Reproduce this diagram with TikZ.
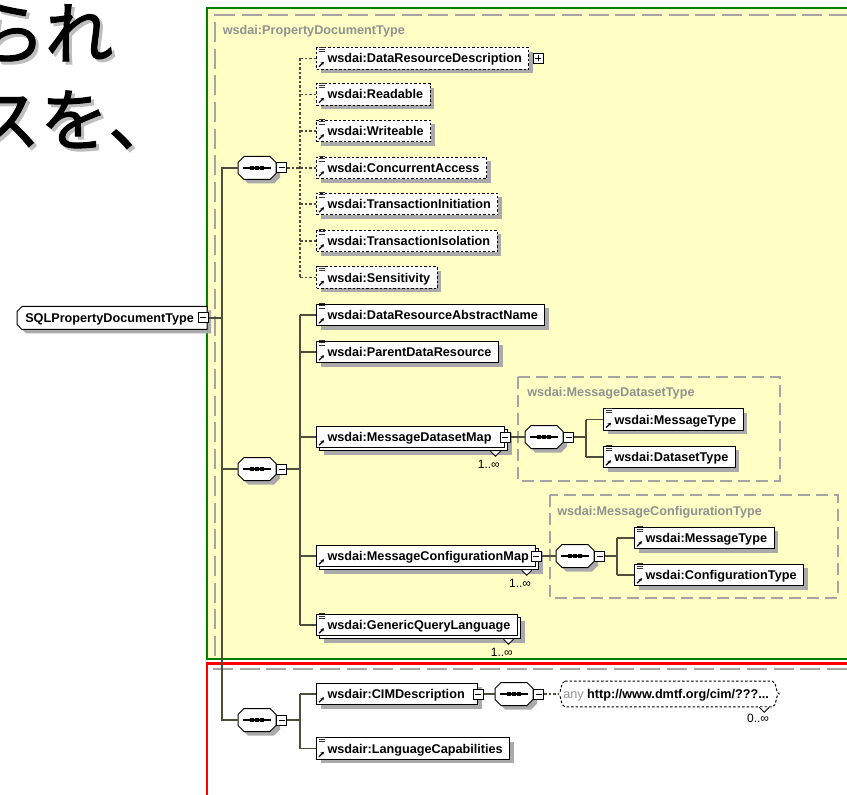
\documentclass[tikz,border=0pt]{standalone}
\usepackage{fontspec}
\setmainfont{Liberation Sans}
\newfontfamily\jafont[FakeBold=1.6]{Noto Sans CJK JP}
\usetikzlibrary{calc,arrows.meta,shadows,backgrounds}
\newdimen\px \px=0.75pt
\definecolor{ybg}{RGB}{255,255,197}
\definecolor{gframe}{RGB}{0,128,0}
\definecolor{rframe}{RGB}{255,0,0}
\definecolor{dgray}{RGB}{165,165,165}
\definecolor{tline}{RGB}{78,78,62}
\definecolor{shad}{RGB}{170,170,170}
\definecolor{lbl}{RGB}{145,145,145}
\definecolor{jshad}{RGB}{190,190,190}
\newcommand\lab[1]{\hspace*{11\px}#1\hspace*{7\px}}
\newcommand\labr[2]{\hspace*{11\px}#1\hspace*{#2\px}}
\tikzset{
  elem/.style={draw=black, line width=1\px, fill=white, inner sep=0pt,
    minimum height=21.5\px, anchor=west, text height=9\px, text depth=0pt,
    font=\fontsize{9.5pt}{11pt}\selectfont\bfseries},
  txt/.style={inner sep=0pt, anchor=west, text height=9\px, text depth=0pt,
    font=\fontsize{9.5pt}{11pt}\selectfont\bfseries},
  shs/.style={drop shadow={shadow xshift=4\px, shadow yshift=-4\px, fill=shad, opacity=1}},
  shm/.style={drop shadow={shadow xshift=7\px, shadow yshift=-7\px, fill=shad, opacity=1},
    copy shadow={shadow xshift=3\px, shadow yshift=-3\px, fill=white, draw=black, line width=1\px, solid}},
  optl/.style={dash pattern=on 2.5\px off 2\px},
  btn/.style={draw=black, fill=white, line width=1\px, minimum size=10\px, inner sep=0pt},
  tln/.style={draw=tline, line width=1.3\px},
  grp/.style={draw=dgray, line width=1.4\px, dash pattern=on 12\px off 6\px},
  grplab/.style={anchor=base west, inner sep=0pt, text=lbl, font=\fontsize{9.5pt}{11pt}\selectfont\bfseries},
  mlab/.style={anchor=base east, inner sep=0pt, font=\fontsize{9pt}{11pt}\selectfont},
  jtext/.style={anchor=base west, inner sep=0pt, font=\jafont\fontsize{51pt}{60pt}\selectfont},
}
\newcommand\octo[2]{(#1+6,#2-11.5) -- (#1+32,#2-11.5) -- (#1+38,#2-5.5) -- (#1+38,#2+5.5) -- (#1+32,#2+11.5) -- (#1+6,#2+11.5) -- (#1,#2+5.5) -- (#1,#2-5.5) -- cycle}
\newcommand\comp[3]{%
  \fill[shad] \octo{#2+4}{#3+4};
  \filldraw[fill=white, draw=black, line width=1\px] \octo{#2}{#3};
  \node[inner sep=0pt, minimum width=38\px, minimum height=23\px, anchor=west] (#1) at (#2,#3) {};
  \draw[line width=1.3\px] (#2+5,#3) -- (#2+33,#3);
  \foreach \q in {14,19,24} \fill (#2+\q-1.6,#3-1.6) rectangle (#2+\q+1.6,#3+1.6);
  \node[btn] (#1b) at (#2+43.5,#3) {};
  \draw[line width=1\px] (#2+40.5,#3) -- (#2+46.5,#3);
}
\newcommand\ia[1]{\draw[line width=1.2\px, -{Stealth[length=2.4pt,width=2.7pt]}] ($(#1.south west)+(3,-3)$) -- ++(5,-5);}
\newcommand\ie[1]{%
  \foreach \k in {0,2.2,4.4} \draw[line width=0.9\px, black!80] ($(#1.north west)+(2.5,\k)$) -- ++(6,0);
  \ia{#1}}
\newcommand\mult[2]{%
  \filldraw[fill=white, draw=black, line width=1\px] ($(#1.south east)+(-14.5,3)$) -- ++(5,5) -- ++(5,-5);
  \node[mlab] at ($(#1.south east)+(-5,20)$) {#2};}
\newcommand\minus[1]{\draw[line width=1\px] ($(#1.west)+(2.5,0)$) -- ($(#1.east)+(-2.5,0)$);}
\begin{document}
\begin{tikzpicture}[x=0.75pt,y=-0.75pt]
\useasboundingbox (0,0) rectangle (847,795);
% Japanese text
\node[jtext, text=jshad] (j1s) at (-20,61.5) {られ};
\node[jtext] (j1) at (-23,58.5) {られ};
\node[jtext, text=jshad] (j2s) at (-25,148) {スを、};
\node[jtext] (j2) at (-28,145) {スを、};
% frames
\fill[ybg] (208,9) rectangle (870,658);
\draw[dgray, line width=2\px, dash pattern=on 20\px off 6.7\px] (215,656) -- (215,15) -- (870,15);
\draw[gframe, line width=2\px] (207,8) rectangle (870,659);
\draw[rframe, line width=2.5\px] (207,810) -- (207,663.5) -- (870,663.5);
\draw[dgray, line width=2\px, dash pattern=on 20\px off 6.7\px] (213,668.5) -- (870,668.5);
\node[grplab] (lpdt) at (222.5,35) {wsdai:PropertyDocumentType};
% group boxes
\draw[grp] (518,377) rectangle (780,481);
\node[grplab] (lmdt) at (527,397) {wsdai:MessageDatasetType};
\draw[grp] (550,495) rectangle (838,598);
\node[grplab] (lmct) at (557,515) {wsdai:MessageConfigurationType};
% root
\fill[shad] (26,310.5) -- (211,310.5) -- (211,333.5) -- (26,333.5) -- (21,328.5) -- (21,315.5) -- cycle;
\filldraw[fill=white, draw=black, line width=1\px] (22,306.5) -- (207,306.5) -- (207,329.5) -- (22,329.5) -- (17,324.5) -- (17,311.5) -- cycle;
\node[txt] (root) at (17,318) {\hspace*{8\px}SQLPropertyDocumentType};
\node[btn] (rootb) at (203,318) {};
\minus{rootb}
% compositors
\comp{c1}{238}{168}
\comp{c2}{238}{469}
\comp{c3}{238}{720}
% group 1
\node[elem,optl,shs] (e1) at (316,58.5) {\lab{wsdai:DataResourceDescription}};
\node[elem,optl,shs] (e2) at (316,94.5) {\lab{wsdai:Readable}};
\node[elem,optl,shs] (e3) at (316,131) {\lab{wsdai:Writeable}};
\node[elem,optl,shs] (e4) at (316,168) {\lab{wsdai:ConcurrentAccess}};
\node[elem,optl,shs] (e5) at (316,204) {\lab{wsdai:TransactionInitiation}};
\node[elem,optl,shs] (e6) at (316,241) {\lab{wsdai:TransactionIsolation}};
\node[elem,optl,shs] (e7) at (316,277.5) {\lab{wsdai:Sensitivity}};
\node[btn] (e1p) at ($(e1.east)+(9,0)$) {};
\minus{e1p}
\draw[line width=1\px] ($(e1p.north)+(0,2.5)$) -- ($(e1p.south)+(0,-2.5)$);
\foreach \n in {e1,e2,e3,e4,e5,e6,e7} {\ie{\n}}
% group 2
\node[elem,shs] (m1) at (316,315) {\lab{wsdai:DataResourceAbstractName}};
\node[elem,shs] (m2) at (316,352) {\lab{wsdai:ParentDataResource}};
\node[elem,shm] (m3) at (316,437) {\labr{wsdai:MessageDatasetMap}{13}};
\node[elem,shm] (m4) at (316,556) {\labr{wsdai:MessageConfigurationMap}{7}};
\node[elem,shm] (m5) at (316,625) {\lab{wsdai:GenericQueryLanguage}};
\ie{m1} \ie{m2} \ia{m3} \ia{m4} \ie{m5}
\mult{m3}{1..∞}
\mult{m4}{1..∞}
\mult{m5}{1..∞}
\node[btn] (m3b) at (m3.east) {};
\minus{m3b}
\node[btn] (m4b) at (m4.east) {};
\minus{m4b}
% MessageDatasetType
\comp{c4}{525}{437}
\node[elem,shs] (d1) at (603,419.5) {\lab{wsdai:MessageType}};
\node[elem,shs] (d2) at (603,457) {\lab{wsdai:DatasetType}};
\ie{d1} \ie{d2}
% MessageConfigurationType
\comp{c5}{556}{556}
\node[elem,shs] (f1) at (634,538) {\lab{wsdai:MessageType}};
\node[elem,shs] (f2) at (634,575) {\lab{wsdai:ConfigurationType}};
\ie{f1} \ie{f2}
% group 3
\node[elem,shs] (b1) at (316,694) {\labr{wsdair:CIMDescription}{13}};
\node[elem,shs] (b2) at (316,748.5) {\lab{wsdair:LanguageCapabilities}};
\ia{b1} \ie{b2}
\node[btn] (b1b) at (b1.east) {};
\minus{b1b}
\comp{c6}{495}{694}
% any
\node[txt, minimum height=25\px] (any) at (558,694) {\hspace*{5\px}{\mdseries\color{lbl}any} http://www.dmtf.org/cim/???...\hspace*{10\px}};
\begin{scope}[on background layer]
\fill[shad, shift={(4,4)}] ($(any.north west)+(7,0)$) -- ($(any.north east)+(-7,0)$) .. controls ($(any.north east)+(-2,0)$) and ($(any.east)+(-4,0)$) .. (any.east) .. controls ($(any.east)+(-4,0)$) and ($(any.south east)+(-2,0)$) .. ($(any.south east)+(-7,0)$) -- ($(any.south west)+(7,0)$) .. controls ($(any.south west)+(2,0)$) and ($(any.west)+(4,0)$) .. (any.west) .. controls ($(any.west)+(4,0)$) and ($(any.north west)+(2,0)$) .. cycle;
\filldraw[fill=white, draw=black, line width=1\px, optl] ($(any.north west)+(7,0)$) -- ($(any.north east)+(-7,0)$) .. controls ($(any.north east)+(-2,0)$) and ($(any.east)+(-4,0)$) .. (any.east) .. controls ($(any.east)+(-4,0)$) and ($(any.south east)+(-2,0)$) .. ($(any.south east)+(-7,0)$) -- ($(any.south west)+(7,0)$) .. controls ($(any.south west)+(2,0)$) and ($(any.west)+(4,0)$) .. (any.west) .. controls ($(any.west)+(4,0)$) and ($(any.north west)+(2,0)$) .. cycle;
\end{scope}
\filldraw[fill=white, draw=black, line width=1\px] ($(any.south east)+(-20,0.5)$) -- ++(5,5) -- ++(5,-5);
\node[mlab] (anym) at ($(any.south east)+(-10,16)$) {0..∞};
% connectors
\coordinate (rail) at (222,318);
\draw[tln] (rootb.east) -- (rail);
\draw[tln] (c1.west) -- (c1.west -| rail) -- (c3.west -| rail) -- (c3.west);
\draw[tln] (c2.west -| rail) -- (c2.west);
\coordinate (v1) at (300,168);
\draw[tln,optl] (c1b.east) -- (v1);
\draw[tln,optl] (e1.west -| v1) -- (e7.west -| v1);
\foreach \n in {e1,e2,e3,e4,e5,e6,e7} {\draw[tln,optl] (\n.west -| v1) -- (\n.west);}
\coordinate (v2) at (300,469);
\draw[tln] (c2b.east) -- (v2);
\draw[tln] (m1.west -| v2) -- (m5.west -| v2);
\foreach \n in {m1,m2,m3,m4,m5} {\draw[tln] (\n.west -| v2) -- (\n.west);}
\coordinate (v3) at (300,720);
\draw[tln] (c3b.east) -- (v3);
\draw[tln] (b1.west -| v3) -- (b2.west -| v3);
\foreach \n in {b1,b2} {\draw[tln] (\n.west -| v3) -- (\n.west);}
\draw[tln] (m3b.east) -- (c4.west);
\coordinate (v4) at (586,437);
\draw[tln] (c4b.east) -- (v4);
\draw[tln] (d1.west -| v4) -- (d2.west -| v4);
\foreach \n in {d1,d2} {\draw[tln] (\n.west -| v4) -- (\n.west);}
\draw[tln] (m4b.east) -- (c5.west);
\coordinate (v5) at (617,556);
\draw[tln] (c5b.east) -- (v5);
\draw[tln] (f1.west -| v5) -- (f2.west -| v5);
\foreach \n in {f1,f2} {\draw[tln] (\n.west -| v5) -- (\n.west);}
\draw[tln] (b1b.east) -- (c6.west);
\draw[tln,optl] (c6b.east) -- (any.west);
\end{tikzpicture}
\end{document}
